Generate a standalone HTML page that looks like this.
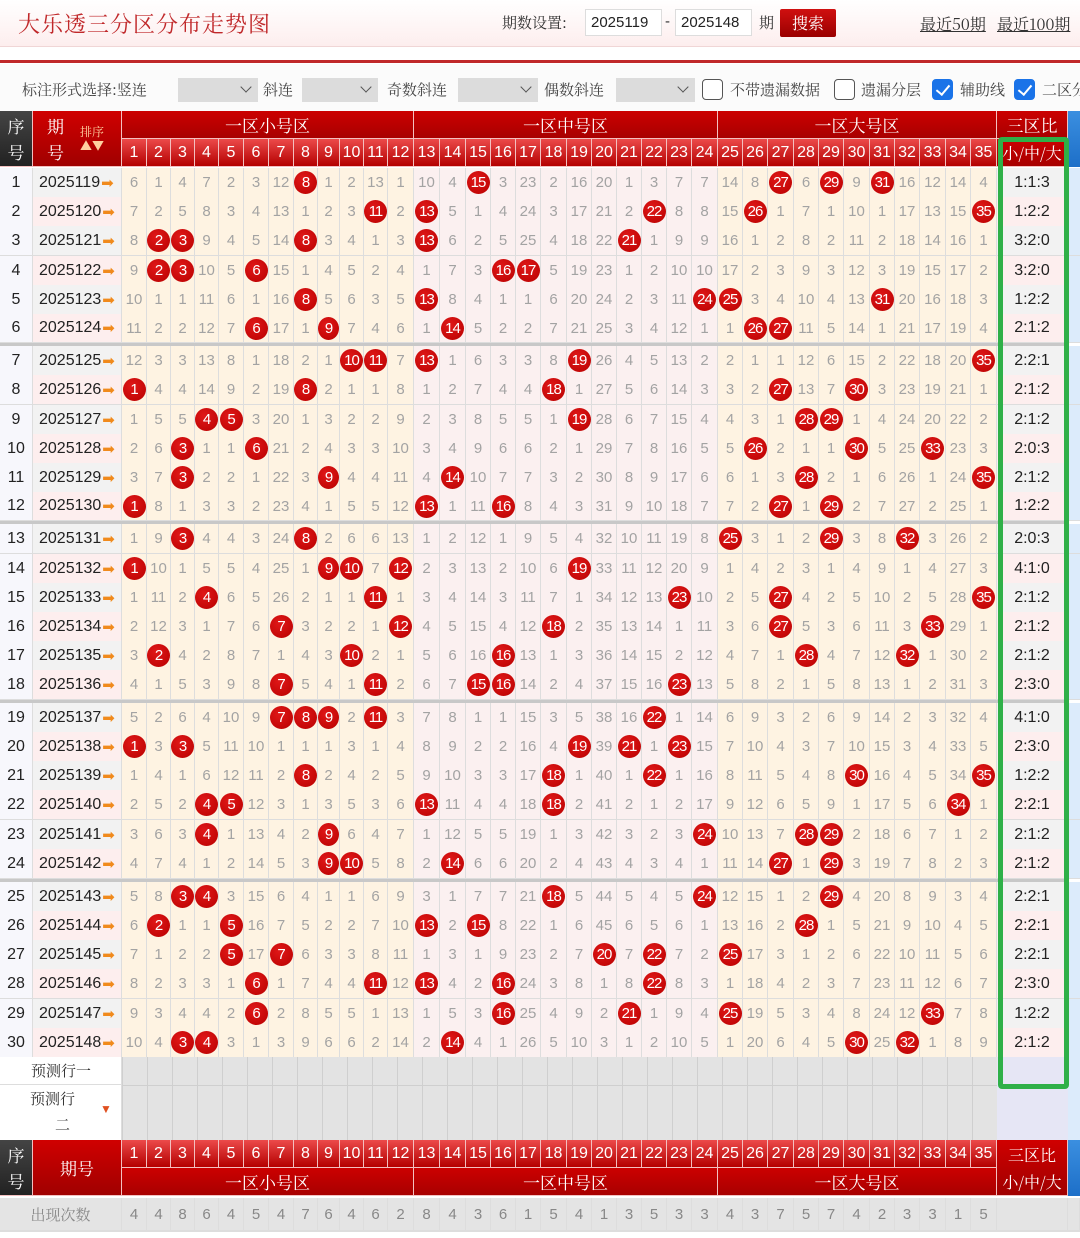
<!DOCTYPE html>
<html><head><meta charset="utf-8">
<style>
*{box-sizing:border-box;margin:0;padding:0}
body{width:1080px;height:1238px;overflow:hidden;background:#fff;position:relative;font-family:"Liberation Sans","Noto Sans CJK SC",sans-serif}
.cj{font-family:"Noto Serif CJK SC","Noto Sans CJK SC",serif}
.top{position:absolute;left:0;top:0;width:1080px;height:47px;background:linear-gradient(#fff,#fdeeee);border-bottom:1px solid #f0d6d6}
.title{position:absolute;left:18px;top:8px;font-size:22px;color:#c0282a;letter-spacing:1px}
.t14{font-size:15px;color:#333;position:absolute}
.inp{position:absolute;top:9px;height:27px;border:1px solid #ddd;background:#fff;font-size:15px;line-height:25px;padding-left:5px;color:#222}
.btn{position:absolute;left:780px;top:9px;width:56px;height:28px;background:linear-gradient(#d01010,#9a0000);color:#fff;font-size:16px;text-align:center;line-height:28px;border-radius:2px}
.lk{position:absolute;top:12px;font-size:16px;color:#333;text-decoration:underline}
.redline{position:absolute;left:0;top:60px;width:1080px;height:3px;background:#c0282a}
.sel{position:absolute;top:78px;height:24px;background:#dcdcdc}
.sel:after{content:"";position:absolute;right:8px;top:5px;width:7px;height:7px;border-right:1.5px solid #555;border-bottom:1.5px solid #555;transform:rotate(45deg)}
.cb{position:absolute;top:79px;width:21px;height:21px;border:1.5px solid #555;border-radius:4px;background:#fff}
.cb.on{background:#1a73e8;border-color:#1a73e8}
.cb.on:after{content:"";position:absolute;left:6px;top:2px;width:6px;height:11px;border-right:2.5px solid #fff;border-bottom:2.5px solid #fff;transform:rotate(40deg)}
.g{position:absolute;left:0;width:1080px;display:grid;grid-template-columns:33px 89px 25px 24px 24px 24px 25px 25px 25px 24px 22px 24px 24px 26px 26px 26px 25px 25px 25px 26px 25px 25px 25px 25px 25px 26px 25px 25px 26px 25px 25px 26px 25px 25px 26px 25px 26px 71px 12px}
.r{height:30px}
.r>span{border-right:1px solid #ddd;border-bottom:1px solid #ddd;display:flex;align-items:center;justify-content:center;font-size:15px;color:#a3a3a3;background:#fef3e2;white-space:nowrap}
.r>span:nth-child(n+15):nth-child(-n+26){background:#fbf0f0}
.r>span:nth-child(1){background:#f7f7fc;color:#222;font-size:16px}
.r>span:nth-child(2){background:#f2f2f2;color:#222;font-size:16px;justify-content:flex-start;padding-left:6px}
.r.p>span:nth-child(2),.r.p>span:nth-child(38){background:#fdeeee}
.r>span:nth-child(38){background:#f2f2f2;color:#222;font-size:16px}
.r>span:nth-child(39){background:#dcebfb;border-right:none}
.r>span:nth-child(2) i{font-style:normal;color:#f08a1c;font-size:15px;font-family:"DejaVu Sans",sans-serif;margin-left:1px}
.r.o>span{background:#e4e4e4!important;color:#888!important;justify-content:center!important;padding:0!important;font-size:15px!important}
em{font-style:normal;display:flex;align-items:center;justify-content:center;width:23px;height:23px;border-radius:50%;background:radial-gradient(circle at 40% 35%,#e01818,#b80000);color:#fff;font-size:15px;letter-spacing:-1px}
.sep{position:absolute;left:0;width:1068px;height:3px;background:#c8c8c8}
.h{height:56px;grid-template-rows:28px 28px}
.h>div{display:flex;align-items:center;justify-content:center;color:#fff;border-right:1px solid #f3c0c0;border-bottom:1px solid #f3c0c0}
.hz{background:linear-gradient(#cc0000,#a80000);font-size:17px}
.hn{background:linear-gradient(#ec4a4a,#b40000);font-size:16px;font-family:"Liberation Sans",sans-serif}
.dk{background:linear-gradient(#444,#222);font-size:17px;flex-direction:column;line-height:26px}
.rd{background:linear-gradient(#d00000,#a00000)}
.bl{background:linear-gradient(#3b8fe0,#1d6fc8);border:none!important}
.green{position:absolute;left:998px;top:137px;width:71px;height:952px;border:5px solid #2fb048;border-radius:4px}
.gc{position:absolute;left:122px;width:875px;background-color:#e3e3e3;background-image:linear-gradient(90deg,#cfcfcf 1px,transparent 1px)}
</style></head><body>
<div class="top">
<div class="title cj">大乐透三分区分布走势图</div>
<div class="t14 cj" style="left:502px;top:12px">期数设置:</div>
<div class="inp" style="left:585px;width:77px">2025119</div>
<div class="t14" style="left:665px;top:13px">-</div>
<div class="inp" style="left:675px;width:77px">2025148</div>
<div class="t14 cj" style="left:759px;top:12px">期</div>
<div class="btn cj">搜索</div>
<div class="lk cj" style="left:920px">最近50期</div>
<div class="lk cj" style="left:997px">最近100期</div>
</div>
<div class="redline"></div>
<div style="position:absolute;left:0;top:64px;width:1080px;height:47px;background:#fbfbfb"></div>
<div class="t14 cj" style="left:22px;top:79px;color:#444">标注形式选择:竖连</div>
<div class="sel" style="left:178px;width:80px"></div>
<div class="t14 cj" style="left:263px;top:79px;color:#444">斜连</div>
<div class="sel" style="left:302px;width:76px"></div>
<div class="t14 cj" style="left:387px;top:79px;color:#444">奇数斜连</div>
<div class="sel" style="left:458px;width:80px"></div>
<div class="t14 cj" style="left:544px;top:79px;color:#444">偶数斜连</div>
<div class="sel" style="left:616px;width:79px"></div>
<div class="cb" style="left:702px"></div>
<div class="t14 cj" style="left:730px;top:79px;color:#444">不带遗漏数据</div>
<div class="cb" style="left:834px"></div>
<div class="t14 cj" style="left:861px;top:79px;color:#444">遗漏分层</div>
<div class="cb on" style="left:932px"></div>
<div class="t14 cj" style="left:960px;top:79px;color:#444">辅助线</div>
<div class="cb on" style="left:1014px"></div>
<div class="t14 cj" style="left:1042px;top:79px;color:#444;white-space:nowrap">二区分</div>

<div class="g h cj" style="top:111px">
<div class="dk" style="grid-row:1/3;grid-column:1"><span>序</span><span>号</span></div>
<div class="rd" style="grid-row:1/3;grid-column:2;font-size:17px;justify-content:flex-start;padding-left:14px"><span style="display:flex;flex-direction:column;line-height:26px">期<br>号</span><span style="font-size:12px;color:#ffd0a0;margin-left:16px;line-height:14px;text-align:center">排序<br>▲▼</span></div>
<div class="hz" style="grid-row:1;grid-column:3/15">一区小号区</div>
<div class="hz" style="grid-row:1;grid-column:15/27">一区中号区</div>
<div class="hz" style="grid-row:1;grid-column:27/38">一区大号区</div>
<div class="hz" style="grid-row:1;grid-column:38">三区比</div>
<div class="rd" style="grid-row:1/3;grid-column:39" ></div>
<div class="hz" style="grid-row:2;grid-column:38;font-size:16px">小/中/大</div>
<div class="hn" style="grid-row:2;grid-column:3">1</div><div class="hn" style="grid-row:2;grid-column:4">2</div><div class="hn" style="grid-row:2;grid-column:5">3</div><div class="hn" style="grid-row:2;grid-column:6">4</div><div class="hn" style="grid-row:2;grid-column:7">5</div><div class="hn" style="grid-row:2;grid-column:8">6</div><div class="hn" style="grid-row:2;grid-column:9">7</div><div class="hn" style="grid-row:2;grid-column:10">8</div><div class="hn" style="grid-row:2;grid-column:11">9</div><div class="hn" style="grid-row:2;grid-column:12">10</div><div class="hn" style="grid-row:2;grid-column:13">11</div><div class="hn" style="grid-row:2;grid-column:14">12</div><div class="hn" style="grid-row:2;grid-column:15">13</div><div class="hn" style="grid-row:2;grid-column:16">14</div><div class="hn" style="grid-row:2;grid-column:17">15</div><div class="hn" style="grid-row:2;grid-column:18">16</div><div class="hn" style="grid-row:2;grid-column:19">17</div><div class="hn" style="grid-row:2;grid-column:20">18</div><div class="hn" style="grid-row:2;grid-column:21">19</div><div class="hn" style="grid-row:2;grid-column:22">20</div><div class="hn" style="grid-row:2;grid-column:23">21</div><div class="hn" style="grid-row:2;grid-column:24">22</div><div class="hn" style="grid-row:2;grid-column:25">23</div><div class="hn" style="grid-row:2;grid-column:26">24</div><div class="hn" style="grid-row:2;grid-column:27">25</div><div class="hn" style="grid-row:2;grid-column:28">26</div><div class="hn" style="grid-row:2;grid-column:29">27</div><div class="hn" style="grid-row:2;grid-column:30">28</div><div class="hn" style="grid-row:2;grid-column:31">29</div><div class="hn" style="grid-row:2;grid-column:32">30</div><div class="hn" style="grid-row:2;grid-column:33">31</div><div class="hn" style="grid-row:2;grid-column:34">32</div><div class="hn" style="grid-row:2;grid-column:35">33</div><div class="hn" style="grid-row:2;grid-column:36">34</div><div class="hn" style="grid-row:2;grid-column:37">35</div>
</div>
<div style="position:absolute;left:1068px;top:111px;width:12px;height:56px;background:linear-gradient(#3b8fe0,#1d6fc8)"></div>

<div class="sep" style="top:343px"></div><div class="sep" style="top:521px"></div><div class="sep" style="top:700px"></div><div class="sep" style="top:879px"></div>

<div class="g r" style="top:168px"><span>1</span><span>2025119<i>➡</i></span><span>6</span><span>1</span><span>4</span><span>7</span><span>2</span><span>3</span><span>12</span><span><em>8</em></span><span>1</span><span>2</span><span>13</span><span>1</span><span>10</span><span>4</span><span><em>15</em></span><span>3</span><span>23</span><span>2</span><span>16</span><span>20</span><span>1</span><span>3</span><span>7</span><span>7</span><span>14</span><span>8</span><span><em>27</em></span><span>6</span><span><em>29</em></span><span>9</span><span><em>31</em></span><span>16</span><span>12</span><span>14</span><span>4</span><span>1:1:3</span><span></span></div>
<div class="g r p" style="top:197px"><span>2</span><span>2025120<i>➡</i></span><span>7</span><span>2</span><span>5</span><span>8</span><span>3</span><span>4</span><span>13</span><span>1</span><span>2</span><span>3</span><span><em>11</em></span><span>2</span><span><em>13</em></span><span>5</span><span>1</span><span>4</span><span>24</span><span>3</span><span>17</span><span>21</span><span>2</span><span><em>22</em></span><span>8</span><span>8</span><span>15</span><span><em>26</em></span><span>1</span><span>7</span><span>1</span><span>10</span><span>1</span><span>17</span><span>13</span><span>15</span><span><em>35</em></span><span>1:2:2</span><span></span></div>
<div class="g r" style="top:226px"><span>3</span><span>2025121<i>➡</i></span><span>8</span><span><em>2</em></span><span><em>3</em></span><span>9</span><span>4</span><span>5</span><span>14</span><span><em>8</em></span><span>3</span><span>4</span><span>1</span><span>3</span><span><em>13</em></span><span>6</span><span>2</span><span>5</span><span>25</span><span>4</span><span>18</span><span>22</span><span><em>21</em></span><span>1</span><span>9</span><span>9</span><span>16</span><span>1</span><span>2</span><span>8</span><span>2</span><span>11</span><span>2</span><span>18</span><span>14</span><span>16</span><span>1</span><span>3:2:0</span><span></span></div>
<div class="g r p" style="top:256px"><span>4</span><span>2025122<i>➡</i></span><span>9</span><span><em>2</em></span><span><em>3</em></span><span>10</span><span>5</span><span><em>6</em></span><span>15</span><span>1</span><span>4</span><span>5</span><span>2</span><span>4</span><span>1</span><span>7</span><span>3</span><span><em>16</em></span><span><em>17</em></span><span>5</span><span>19</span><span>23</span><span>1</span><span>2</span><span>10</span><span>10</span><span>17</span><span>2</span><span>3</span><span>9</span><span>3</span><span>12</span><span>3</span><span>19</span><span>15</span><span>17</span><span>2</span><span>3:2:0</span><span></span></div>
<div class="g r" style="top:285px"><span>5</span><span>2025123<i>➡</i></span><span>10</span><span>1</span><span>1</span><span>11</span><span>6</span><span>1</span><span>16</span><span><em>8</em></span><span>5</span><span>6</span><span>3</span><span>5</span><span><em>13</em></span><span>8</span><span>4</span><span>1</span><span>1</span><span>6</span><span>20</span><span>24</span><span>2</span><span>3</span><span>11</span><span><em>24</em></span><span><em>25</em></span><span>3</span><span>4</span><span>10</span><span>4</span><span>13</span><span><em>31</em></span><span>20</span><span>16</span><span>18</span><span>3</span><span>1:2:2</span><span></span></div>
<div class="g r p" style="top:314px;height:29px"><span>6</span><span>2025124<i>➡</i></span><span>11</span><span>2</span><span>2</span><span>12</span><span>7</span><span><em>6</em></span><span>17</span><span>1</span><span><em>9</em></span><span>7</span><span>4</span><span>6</span><span>1</span><span><em>14</em></span><span>5</span><span>2</span><span>2</span><span>7</span><span>21</span><span>25</span><span>3</span><span>4</span><span>12</span><span>1</span><span>1</span><span><em>26</em></span><span><em>27</em></span><span>11</span><span>5</span><span>14</span><span>1</span><span>21</span><span>17</span><span>19</span><span>4</span><span>2:1:2</span><span></span></div>

<div class="g r" style="top:346px"><span>7</span><span>2025125<i>➡</i></span><span>12</span><span>3</span><span>3</span><span>13</span><span>8</span><span>1</span><span>18</span><span>2</span><span>1</span><span><em>10</em></span><span><em>11</em></span><span>7</span><span><em>13</em></span><span>1</span><span>6</span><span>3</span><span>3</span><span>8</span><span><em>19</em></span><span>26</span><span>4</span><span>5</span><span>13</span><span>2</span><span>2</span><span>1</span><span>1</span><span>12</span><span>6</span><span>15</span><span>2</span><span>22</span><span>18</span><span>20</span><span><em>35</em></span><span>2:2:1</span><span></span></div>
<div class="g r p" style="top:375px"><span>8</span><span>2025126<i>➡</i></span><span><em>1</em></span><span>4</span><span>4</span><span>14</span><span>9</span><span>2</span><span>19</span><span><em>8</em></span><span>2</span><span>1</span><span>1</span><span>8</span><span>1</span><span>2</span><span>7</span><span>4</span><span>4</span><span><em>18</em></span><span>1</span><span>27</span><span>5</span><span>6</span><span>14</span><span>3</span><span>3</span><span>2</span><span><em>27</em></span><span>13</span><span>7</span><span><em>30</em></span><span>3</span><span>23</span><span>19</span><span>21</span><span>1</span><span>2:1:2</span><span></span></div>
<div class="g r" style="top:405px"><span>9</span><span>2025127<i>➡</i></span><span>1</span><span>5</span><span>5</span><span><em>4</em></span><span><em>5</em></span><span>3</span><span>20</span><span>1</span><span>3</span><span>2</span><span>2</span><span>9</span><span>2</span><span>3</span><span>8</span><span>5</span><span>5</span><span>1</span><span><em>19</em></span><span>28</span><span>6</span><span>7</span><span>15</span><span>4</span><span>4</span><span>3</span><span>1</span><span><em>28</em></span><span><em>29</em></span><span>1</span><span>4</span><span>24</span><span>20</span><span>22</span><span>2</span><span>2:1:2</span><span></span></div>
<div class="g r p" style="top:434px"><span>10</span><span>2025128<i>➡</i></span><span>2</span><span>6</span><span><em>3</em></span><span>1</span><span>1</span><span><em>6</em></span><span>21</span><span>2</span><span>4</span><span>3</span><span>3</span><span>10</span><span>3</span><span>4</span><span>9</span><span>6</span><span>6</span><span>2</span><span>1</span><span>29</span><span>7</span><span>8</span><span>16</span><span>5</span><span>5</span><span><em>26</em></span><span>2</span><span>1</span><span>1</span><span><em>30</em></span><span>5</span><span>25</span><span><em>33</em></span><span>23</span><span>3</span><span>2:0:3</span><span></span></div>
<div class="g r" style="top:463px"><span>11</span><span>2025129<i>➡</i></span><span>3</span><span>7</span><span><em>3</em></span><span>2</span><span>2</span><span>1</span><span>22</span><span>3</span><span><em>9</em></span><span>4</span><span>4</span><span>11</span><span>4</span><span><em>14</em></span><span>10</span><span>7</span><span>7</span><span>3</span><span>2</span><span>30</span><span>8</span><span>9</span><span>17</span><span>6</span><span>6</span><span>1</span><span>3</span><span><em>28</em></span><span>2</span><span>1</span><span>6</span><span>26</span><span>1</span><span>24</span><span><em>35</em></span><span>2:1:2</span><span></span></div>
<div class="g r p" style="top:492px;height:29px"><span>12</span><span>2025130<i>➡</i></span><span><em>1</em></span><span>8</span><span>1</span><span>3</span><span>3</span><span>2</span><span>23</span><span>4</span><span>1</span><span>5</span><span>5</span><span>12</span><span><em>13</em></span><span>1</span><span>11</span><span><em>16</em></span><span>8</span><span>4</span><span>3</span><span>31</span><span>9</span><span>10</span><span>18</span><span>7</span><span>7</span><span>2</span><span><em>27</em></span><span>1</span><span><em>29</em></span><span>2</span><span>7</span><span>27</span><span>2</span><span>25</span><span>1</span><span>1:2:2</span><span></span></div>

<div class="g r" style="top:524px"><span>13</span><span>2025131<i>➡</i></span><span>1</span><span>9</span><span><em>3</em></span><span>4</span><span>4</span><span>3</span><span>24</span><span><em>8</em></span><span>2</span><span>6</span><span>6</span><span>13</span><span>1</span><span>2</span><span>12</span><span>1</span><span>9</span><span>5</span><span>4</span><span>32</span><span>10</span><span>11</span><span>19</span><span>8</span><span><em>25</em></span><span>3</span><span>1</span><span>2</span><span><em>29</em></span><span>3</span><span>8</span><span><em>32</em></span><span>3</span><span>26</span><span>2</span><span>2:0:3</span><span></span></div>
<div class="g r p" style="top:554px"><span>14</span><span>2025132<i>➡</i></span><span><em>1</em></span><span>10</span><span>1</span><span>5</span><span>5</span><span>4</span><span>25</span><span>1</span><span><em>9</em></span><span><em>10</em></span><span>7</span><span><em>12</em></span><span>2</span><span>3</span><span>13</span><span>2</span><span>10</span><span>6</span><span><em>19</em></span><span>33</span><span>11</span><span>12</span><span>20</span><span>9</span><span>1</span><span>4</span><span>2</span><span>3</span><span>1</span><span>4</span><span>9</span><span>1</span><span>4</span><span>27</span><span>3</span><span>4:1:0</span><span></span></div>
<div class="g r" style="top:583px"><span>15</span><span>2025133<i>➡</i></span><span>1</span><span>11</span><span>2</span><span><em>4</em></span><span>6</span><span>5</span><span>26</span><span>2</span><span>1</span><span>1</span><span><em>11</em></span><span>1</span><span>3</span><span>4</span><span>14</span><span>3</span><span>11</span><span>7</span><span>1</span><span>34</span><span>12</span><span>13</span><span><em>23</em></span><span>10</span><span>2</span><span>5</span><span><em>27</em></span><span>4</span><span>2</span><span>5</span><span>10</span><span>2</span><span>5</span><span>28</span><span><em>35</em></span><span>2:1:2</span><span></span></div>
<div class="g r p" style="top:612px"><span>16</span><span>2025134<i>➡</i></span><span>2</span><span>12</span><span>3</span><span>1</span><span>7</span><span>6</span><span><em>7</em></span><span>3</span><span>2</span><span>2</span><span>1</span><span><em>12</em></span><span>4</span><span>5</span><span>15</span><span>4</span><span>12</span><span><em>18</em></span><span>2</span><span>35</span><span>13</span><span>14</span><span>1</span><span>11</span><span>3</span><span>6</span><span><em>27</em></span><span>5</span><span>3</span><span>6</span><span>11</span><span>3</span><span><em>33</em></span><span>29</span><span>1</span><span>2:1:2</span><span></span></div>
<div class="g r" style="top:641px"><span>17</span><span>2025135<i>➡</i></span><span>3</span><span><em>2</em></span><span>4</span><span>2</span><span>8</span><span>7</span><span>1</span><span>4</span><span>3</span><span><em>10</em></span><span>2</span><span>1</span><span>5</span><span>6</span><span>16</span><span><em>16</em></span><span>13</span><span>1</span><span>3</span><span>36</span><span>14</span><span>15</span><span>2</span><span>12</span><span>4</span><span>7</span><span>1</span><span><em>28</em></span><span>4</span><span>7</span><span>12</span><span><em>32</em></span><span>1</span><span>30</span><span>2</span><span>2:1:2</span><span></span></div>
<div class="g r p" style="top:670px;height:30px"><span>18</span><span>2025136<i>➡</i></span><span>4</span><span>1</span><span>5</span><span>3</span><span>9</span><span>8</span><span><em>7</em></span><span>5</span><span>4</span><span>1</span><span><em>11</em></span><span>2</span><span>6</span><span>7</span><span><em>15</em></span><span><em>16</em></span><span>14</span><span>2</span><span>4</span><span>37</span><span>15</span><span>16</span><span><em>23</em></span><span>13</span><span>5</span><span>8</span><span>2</span><span>1</span><span>5</span><span>8</span><span>13</span><span>1</span><span>2</span><span>31</span><span>3</span><span>2:3:0</span><span></span></div>

<div class="g r" style="top:703px"><span>19</span><span>2025137<i>➡</i></span><span>5</span><span>2</span><span>6</span><span>4</span><span>10</span><span>9</span><span><em>7</em></span><span><em>8</em></span><span><em>9</em></span><span>2</span><span><em>11</em></span><span>3</span><span>7</span><span>8</span><span>1</span><span>1</span><span>15</span><span>3</span><span>5</span><span>38</span><span>16</span><span><em>22</em></span><span>1</span><span>14</span><span>6</span><span>9</span><span>3</span><span>2</span><span>6</span><span>9</span><span>14</span><span>2</span><span>3</span><span>32</span><span>4</span><span>4:1:0</span><span></span></div>
<div class="g r p" style="top:732px"><span>20</span><span>2025138<i>➡</i></span><span><em>1</em></span><span>3</span><span><em>3</em></span><span>5</span><span>11</span><span>10</span><span>1</span><span>1</span><span>1</span><span>3</span><span>1</span><span>4</span><span>8</span><span>9</span><span>2</span><span>2</span><span>16</span><span>4</span><span><em>19</em></span><span>39</span><span><em>21</em></span><span>1</span><span><em>23</em></span><span>15</span><span>7</span><span>10</span><span>4</span><span>3</span><span>7</span><span>10</span><span>15</span><span>3</span><span>4</span><span>33</span><span>5</span><span>2:3:0</span><span></span></div>
<div class="g r" style="top:761px"><span>21</span><span>2025139<i>➡</i></span><span>1</span><span>4</span><span>1</span><span>6</span><span>12</span><span>11</span><span>2</span><span><em>8</em></span><span>2</span><span>4</span><span>2</span><span>5</span><span>9</span><span>10</span><span>3</span><span>3</span><span>17</span><span><em>18</em></span><span>1</span><span>40</span><span>1</span><span><em>22</em></span><span>1</span><span>16</span><span>8</span><span>11</span><span>5</span><span>4</span><span>8</span><span><em>30</em></span><span>16</span><span>4</span><span>5</span><span>34</span><span><em>35</em></span><span>1:2:2</span><span></span></div>
<div class="g r p" style="top:790px"><span>22</span><span>2025140<i>➡</i></span><span>2</span><span>5</span><span>2</span><span><em>4</em></span><span><em>5</em></span><span>12</span><span>3</span><span>1</span><span>3</span><span>5</span><span>3</span><span>6</span><span><em>13</em></span><span>11</span><span>4</span><span>4</span><span>18</span><span><em>18</em></span><span>2</span><span>41</span><span>2</span><span>1</span><span>2</span><span>17</span><span>9</span><span>12</span><span>6</span><span>5</span><span>9</span><span>1</span><span>17</span><span>5</span><span>6</span><span><em>34</em></span><span>1</span><span>2:2:1</span><span></span></div>
<div class="g r" style="top:820px"><span>23</span><span>2025141<i>➡</i></span><span>3</span><span>6</span><span>3</span><span><em>4</em></span><span>1</span><span>13</span><span>4</span><span>2</span><span><em>9</em></span><span>6</span><span>4</span><span>7</span><span>1</span><span>12</span><span>5</span><span>5</span><span>19</span><span>1</span><span>3</span><span>42</span><span>3</span><span>2</span><span>3</span><span><em>24</em></span><span>10</span><span>13</span><span>7</span><span><em>28</em></span><span><em>29</em></span><span>2</span><span>18</span><span>6</span><span>7</span><span>1</span><span>2</span><span>2:1:2</span><span></span></div>
<div class="g r p" style="top:849px"><span>24</span><span>2025142<i>➡</i></span><span>4</span><span>7</span><span>4</span><span>1</span><span>2</span><span>14</span><span>5</span><span>3</span><span><em>9</em></span><span><em>10</em></span><span>5</span><span>8</span><span>2</span><span><em>14</em></span><span>6</span><span>6</span><span>20</span><span>2</span><span>4</span><span>43</span><span>4</span><span>3</span><span>4</span><span>1</span><span>11</span><span>14</span><span><em>27</em></span><span>1</span><span><em>29</em></span><span>3</span><span>19</span><span>7</span><span>8</span><span>2</span><span>3</span><span>2:1:2</span><span></span></div>

<div class="g r" style="top:882px"><span>25</span><span>2025143<i>➡</i></span><span>5</span><span>8</span><span><em>3</em></span><span><em>4</em></span><span>3</span><span>15</span><span>6</span><span>4</span><span>1</span><span>1</span><span>6</span><span>9</span><span>3</span><span>1</span><span>7</span><span>7</span><span>21</span><span><em>18</em></span><span>5</span><span>44</span><span>5</span><span>4</span><span>5</span><span><em>24</em></span><span>12</span><span>15</span><span>1</span><span>2</span><span><em>29</em></span><span>4</span><span>20</span><span>8</span><span>9</span><span>3</span><span>4</span><span>2:2:1</span><span></span></div>
<div class="g r p" style="top:911px"><span>26</span><span>2025144<i>➡</i></span><span>6</span><span><em>2</em></span><span>1</span><span>1</span><span><em>5</em></span><span>16</span><span>7</span><span>5</span><span>2</span><span>2</span><span>7</span><span>10</span><span><em>13</em></span><span>2</span><span><em>15</em></span><span>8</span><span>22</span><span>1</span><span>6</span><span>45</span><span>6</span><span>5</span><span>6</span><span>1</span><span>13</span><span>16</span><span>2</span><span><em>28</em></span><span>1</span><span>5</span><span>21</span><span>9</span><span>10</span><span>4</span><span>5</span><span>2:2:1</span><span></span></div>
<div class="g r" style="top:940px"><span>27</span><span>2025145<i>➡</i></span><span>7</span><span>1</span><span>2</span><span>2</span><span><em>5</em></span><span>17</span><span><em>7</em></span><span>6</span><span>3</span><span>3</span><span>8</span><span>11</span><span>1</span><span>3</span><span>1</span><span>9</span><span>23</span><span>2</span><span>7</span><span><em>20</em></span><span>7</span><span><em>22</em></span><span>7</span><span>2</span><span><em>25</em></span><span>17</span><span>3</span><span>1</span><span>2</span><span>6</span><span>22</span><span>10</span><span>11</span><span>5</span><span>6</span><span>2:2:1</span><span></span></div>
<div class="g r p" style="top:969px"><span>28</span><span>2025146<i>➡</i></span><span>8</span><span>2</span><span>3</span><span>3</span><span>1</span><span><em>6</em></span><span>1</span><span>7</span><span>4</span><span>4</span><span><em>11</em></span><span>12</span><span><em>13</em></span><span>4</span><span>2</span><span><em>16</em></span><span>24</span><span>3</span><span>8</span><span>1</span><span>8</span><span><em>22</em></span><span>8</span><span>3</span><span>1</span><span>18</span><span>4</span><span>2</span><span>3</span><span>7</span><span>23</span><span>11</span><span>12</span><span>6</span><span>7</span><span>2:3:0</span><span></span></div>
<div class="g r" style="top:999px"><span>29</span><span>2025147<i>➡</i></span><span>9</span><span>3</span><span>4</span><span>4</span><span>2</span><span><em>6</em></span><span>2</span><span>8</span><span>5</span><span>5</span><span>1</span><span>13</span><span>1</span><span>5</span><span>3</span><span><em>16</em></span><span>25</span><span>4</span><span>9</span><span>2</span><span><em>21</em></span><span>1</span><span>9</span><span>4</span><span><em>25</em></span><span>19</span><span>5</span><span>3</span><span>4</span><span>8</span><span>24</span><span>12</span><span><em>33</em></span><span>7</span><span>8</span><span>1:2:2</span><span></span></div>
<div class="g r p" style="top:1028px"><span>30</span><span>2025148<i>➡</i></span><span>10</span><span>4</span><span><em>3</em></span><span><em>4</em></span><span>3</span><span>1</span><span>3</span><span>9</span><span>6</span><span>6</span><span>2</span><span>14</span><span>2</span><span><em>14</em></span><span>4</span><span>1</span><span>26</span><span>5</span><span>10</span><span>3</span><span>1</span><span>2</span><span>10</span><span>5</span><span>1</span><span>20</span><span>6</span><span>4</span><span>5</span><span><em>30</em></span><span>25</span><span><em>32</em></span><span>1</span><span>8</span><span>9</span><span>2:1:2</span><span></span></div>

<div style="position:absolute;left:0;top:1057px;width:122px;height:83px;background:#fff;border-right:1px solid #ddd"></div>
<div class="cj" style="position:absolute;left:0;top:1057px;width:122px;height:28px;border-bottom:1px solid #ddd;text-align:center;line-height:27px;font-size:15px;color:#333">预测行一</div>
<div class="cj" style="position:absolute;left:30px;top:1088px;font-size:15px;color:#333">预测行</div>
<div class="cj" style="position:absolute;left:55px;top:1114px;font-size:15px;color:#333">二</div>
<div style="position:absolute;left:100px;top:1102px;color:#e05020;font-size:12px">▼</div>
<div class="gc" style="top:1057px;height:83px;background-size:25px 100%"></div>
<div style="position:absolute;left:122px;top:1085px;width:875px;height:1px;background:#cfcfcf"></div>
<div style="position:absolute;left:997px;top:1057px;width:71px;height:83px;background:#e6e6f5"></div>
<div style="position:absolute;left:1068px;top:1057px;width:12px;height:83px;background:#dcebfb"></div>

<div class="green"></div>

<div class="g h cj" style="top:1140px">
<div class="dk" style="grid-row:1/3;grid-column:1"><span>序</span><span>号</span></div>
<div class="rd" style="grid-row:1/3;grid-column:2;font-size:17px">期号</div>
<div class="hz" style="grid-row:2;grid-column:3/15">一区小号区</div>
<div class="hz" style="grid-row:2;grid-column:15/27">一区中号区</div>
<div class="hz" style="grid-row:2;grid-column:27/38">一区大号区</div>
<div class="rd" style="grid-row:1/3;grid-column:38;flex-direction:column;font-size:16px;line-height:27px"><span>三区比</span><span>小/中/大</span></div>
<div class="bl" style="grid-row:1/3;grid-column:39"></div>
<div class="hn" style="grid-row:1;grid-column:3">1</div><div class="hn" style="grid-row:1;grid-column:4">2</div><div class="hn" style="grid-row:1;grid-column:5">3</div><div class="hn" style="grid-row:1;grid-column:6">4</div><div class="hn" style="grid-row:1;grid-column:7">5</div><div class="hn" style="grid-row:1;grid-column:8">6</div><div class="hn" style="grid-row:1;grid-column:9">7</div><div class="hn" style="grid-row:1;grid-column:10">8</div><div class="hn" style="grid-row:1;grid-column:11">9</div><div class="hn" style="grid-row:1;grid-column:12">10</div><div class="hn" style="grid-row:1;grid-column:13">11</div><div class="hn" style="grid-row:1;grid-column:14">12</div><div class="hn" style="grid-row:1;grid-column:15">13</div><div class="hn" style="grid-row:1;grid-column:16">14</div><div class="hn" style="grid-row:1;grid-column:17">15</div><div class="hn" style="grid-row:1;grid-column:18">16</div><div class="hn" style="grid-row:1;grid-column:19">17</div><div class="hn" style="grid-row:1;grid-column:20">18</div><div class="hn" style="grid-row:1;grid-column:21">19</div><div class="hn" style="grid-row:1;grid-column:22">20</div><div class="hn" style="grid-row:1;grid-column:23">21</div><div class="hn" style="grid-row:1;grid-column:24">22</div><div class="hn" style="grid-row:1;grid-column:25">23</div><div class="hn" style="grid-row:1;grid-column:26">24</div><div class="hn" style="grid-row:1;grid-column:27">25</div><div class="hn" style="grid-row:1;grid-column:28">26</div><div class="hn" style="grid-row:1;grid-column:29">27</div><div class="hn" style="grid-row:1;grid-column:30">28</div><div class="hn" style="grid-row:1;grid-column:31">29</div><div class="hn" style="grid-row:1;grid-column:32">30</div><div class="hn" style="grid-row:1;grid-column:33">31</div><div class="hn" style="grid-row:1;grid-column:34">32</div><div class="hn" style="grid-row:1;grid-column:35">33</div><div class="hn" style="grid-row:1;grid-column:36">34</div><div class="hn" style="grid-row:1;grid-column:37">35</div>
</div>

<div class="g r o" style="top:1198px;height:33px"><span style="grid-column:1/3" class="cj">出现次数</span><span>4</span><span>4</span><span>8</span><span>6</span><span>4</span><span>5</span><span>4</span><span>7</span><span>6</span><span>4</span><span>6</span><span>2</span><span>8</span><span>4</span><span>3</span><span>6</span><span>1</span><span>5</span><span>4</span><span>1</span><span>3</span><span>5</span><span>3</span><span>3</span><span>4</span><span>3</span><span>7</span><span>5</span><span>7</span><span>4</span><span>2</span><span>3</span><span>3</span><span>1</span><span>5</span><span></span><span></span></div>
<div style="position:absolute;left:0;top:1231px;width:1080px;height:7px;background:#fff;border-top:1px solid #ddd"></div>
</body></html>
